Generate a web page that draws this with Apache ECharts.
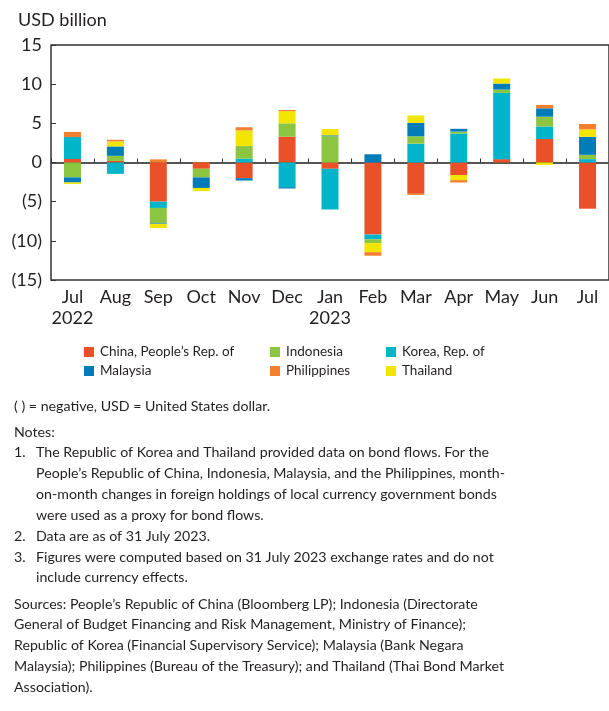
<!DOCTYPE html>
<html>
<head>
<meta charset="utf-8">
<script src="https://cdn.jsdelivr.net/npm/echarts@6/dist/echarts.min.js"></script>
<style>
  html, body { margin: 0; padding: 0; background: #fff; }
  #main { width: 609px; height: 711px; }
</style>
</head>
<body>
<div id="main"></div>
<script>
// months on the x axis
var months = ['Jul\n2022', 'Aug', 'Sep', 'Oct', 'Nov', 'Dec', 'Jan\n2023', 'Feb', 'Mar', 'Apr', 'May', 'Jun', 'Jul'];
var yTicks = [-15, -10, -5, 0, 5, 10, 15];

// bond flows, USD billion
var china       = [0.45, 0.2, -5.0, -0.8, -2.0, 3.3, -0.8, -9.2, -4.0, -1.6, 0.43, 3.0, -5.9];
var korea       = [2.8, -1.45, -0.8, 0, 0.5, -3.15, -5.2, -0.6, 2.4, 3.7, 8.45, 1.6, 0.43];
var indonesia   = [-1.9, 0.65, -1.9, -1.1, 1.6, 1.7, 3.35, -0.5, 0.95, 0.25, 0.43, 1.25, 0.55];
var malaysia    = [-0.65, 1.2, -0.12, -1.35, -0.3, -0.17, 0.12, 1.05, 1.7, 0.35, 0.77, 1.07, 2.3];
var thailand    = [-0.2, 0.65, -0.55, -0.4, 2.0, 1.55, 0.8, -1.15, 0.95, -0.65, 0.64, -0.3, 0.95];
var philippines = [0.65, 0.2, 0.4, 0.05, 0.4, 0.15, 0, -0.45, -0.13, -0.3, 0, 0.43, 0.68];

var FONT = 'Lato';
var TXT = '#231f20';

// stacking order (bottom to top) differs from the legend order
var stackOrder = [
  ['China, People\u2019s Rep. of', china, '#ea5129'],
  ['Korea, Rep. of', korea, '#00b5c9'],
  ['Indonesia', indonesia, '#8cc540'],
  ['Malaysia', malaysia, '#007cb9'],
  ['Thailand', thailand, '#f2e500'],
  ['Philippines', philippines, '#f47f2c']
];

// legend slots: name, left, top
var legendSlots = [
  ['China, People\u2019s Rep. of', 84, 345],
  ['Indonesia', 270, 345],
  ['Korea, Rep. of', 386, 345],
  ['Malaysia', 84, 364],
  ['Philippines', 270, 364],
  ['Thailand', 386, 364]
];

// [number, text, y centre, indent]
var noteLines = [
  ['', '( ) = negative, USD = United States dollar.', 406, 14],
  ['', 'Notes:', 432, 14],
  ['1.', 'The Republic of Korea and Thailand provided data on bond flows. For the', 452, 36],
  ['', 'People\u2019s Republic of China, Indonesia, Malaysia, and the Philippines, month-', 473, 36],
  ['', 'on-month changes in foreign holdings of local currency government bonds', 494, 36],
  ['', 'were used as a proxy for bond flows.', 515, 36],
  ['2.', 'Data are as of 31 July 2023.', 536, 36],
  ['3.', 'Figures were computed based on 31 July 2023 exchange rates and do not', 557, 36],
  ['', 'include currency effects.', 577, 36],
  ['', 'Sources: People\u2019s Republic of China (Bloomberg LP); Indonesia (Directorate', 604, 14],
  ['', 'General of Budget Financing and Risk Management, Ministry of Finance);', 624, 14],
  ['', 'Republic of Korea (Financial Supervisory Service); Malaysia (Bank Negara', 645, 14],
  ['', 'Malaysia); Philippines (Bureau of the Treasury); and Thailand (Thai Bond Market', 666, 14],
  ['', 'Association).', 687, 14]
];

var chart = echarts.init(document.getElementById('main'));

var series = stackOrder.map(function (s) {
  return {
    name: s[0],
    type: 'bar',
    stack: 'flows',
    barWidth: 17,
    data: s[1],
    itemStyle: { color: s[2] },
    emphasis: { disabled: true }
  };
});

var legends = legendSlots.map(function (l) {
  return {
    data: [l[0]],
    left: l[1],
    top: l[2],
    icon: 'rect',
    itemWidth: 10,
    itemHeight: 10,
    itemGap: 0,
    padding: 0,
    selectedMode: false,
    textStyle: { fontFamily: FONT, fontSize: 13.5, color: TXT, padding: [0, 0, 0, 1] }
  };
});

var NOTE_FONT = '14.2px ' + FONT;
var graphics = [{
  type: 'text', x: 18, y: 20,
  style: { text: 'USD billion', font: '18px ' + FONT, fill: TXT, verticalAlign: 'middle' }
}];
noteLines.forEach(function (n) {
  if (n[0]) {
    graphics.push({
      type: 'text', x: 14, y: n[2],
      style: { text: n[0], font: NOTE_FONT, fill: TXT, verticalAlign: 'middle' }
    });
  }
  graphics.push({
    type: 'text', x: n[3], y: n[2],
    style: { text: n[1], font: NOTE_FONT, fill: TXT, verticalAlign: 'middle' }
  });
});

chart.setOption({
  animation: false,
  backgroundColor: '#fff',
  grid: {
    left: 51, right: -4, top: 45, bottom: 431,
    show: true, borderColor: '#333', borderWidth: 1.5
  },
  legend: legends,
  graphic: graphics,
  xAxis: [{
    type: 'category',
    data: months,
    position: 'bottom',
    axisLine: { show: false, onZero: false },
    axisTick: { show: false },
    axisLabel: {
      fontFamily: FONT, fontSize: 18, color: TXT,
      margin: 7, lineHeight: 21, interval: 0
    }
  }, {
    type: 'category',
    data: months,
    position: 'top',
    axisLine: { show: true, onZero: true, lineStyle: { color: '#555', width: 2 } },
    axisTick: { show: true, inside: false, length: 4, lineStyle: { color: '#333' } },
    axisLabel: { show: false }
  }],
  yAxis: {
    type: 'value',
    min: yTicks[0],
    max: yTicks[yTicks.length - 1],
    interval: 5,
    axisLine: { show: false },
    axisTick: { show: true, inside: true, length: 5, lineStyle: { color: '#333' } },
    splitLine: { show: false },
    axisLabel: {
      fontFamily: FONT, fontSize: 18, color: TXT, margin: 9,
      formatter: function (v) { return v < 0 ? '(' + (-v) + ')' : String(v); }
    }
  },
  series: series
});
</script>
</body>
</html>
